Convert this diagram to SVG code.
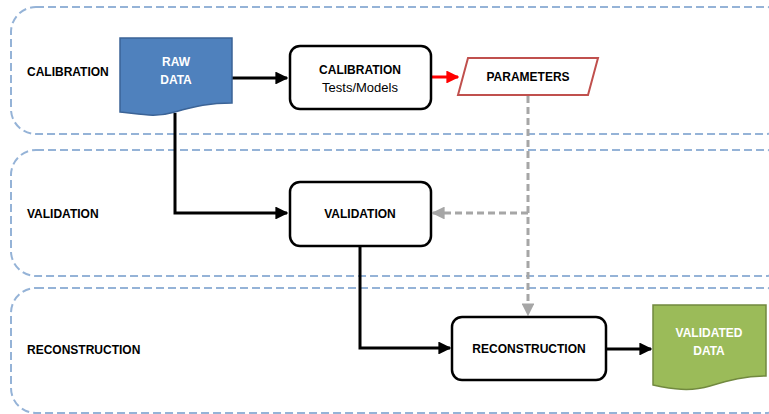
<svg xmlns="http://www.w3.org/2000/svg" width="769" height="414" viewBox="0 0 769 414">
<style>
.lane{fill:none;stroke:#95B3D7;stroke-width:2;stroke-dasharray:8,4}
.lbl{font-family:"Liberation Sans",Arial,sans-serif;font-weight:bold;font-size:12px;fill:#000}
.box{fill:#fff;stroke:#000;stroke-width:2.5}
.t{font-family:"Liberation Sans",Arial,sans-serif;font-size:12px;fill:#000;text-anchor:middle}
.b{font-weight:bold}
.w{fill:#fff}
.blk{fill:none;stroke:#000;stroke-width:3}
.gry{fill:none;stroke:#A6A6A6;stroke-width:3;stroke-dasharray:7,4}
</style>
<defs>
<marker id="ab" viewBox="0 0 10 10" refX="9" refY="5" markerWidth="4.3" markerHeight="4.3" orient="auto" markerUnits="strokeWidth"><path d="M0,0 L10,5 L0,10 z" fill="#000"/></marker>
<marker id="ar" viewBox="0 0 10 10" refX="9" refY="5" markerWidth="4.3" markerHeight="4.3" orient="auto" markerUnits="strokeWidth"><path d="M0,0 L10,5 L0,10 z" fill="#FF0000"/></marker>
<marker id="ag" viewBox="0 0 10 10" refX="9" refY="5" markerWidth="4.3" markerHeight="4.3" orient="auto" markerUnits="strokeWidth"><path d="M0,0 L10,5 L0,10 z" fill="#A6A6A6"/></marker>
</defs>
<g id="lanes">
<rect id="lane-calibration" class="lane" x="11" y="7" width="780" height="127" rx="25"/>
<rect id="lane-validation" class="lane" x="11" y="150" width="780" height="126" rx="25"/>
<rect id="lane-reconstruction" class="lane" x="11" y="288" width="780" height="125" rx="25"/>
<text class="lbl" x="27" y="76">CALIBRATION</text>
<text class="lbl" x="27" y="218">VALIDATION</text>
<text class="lbl" x="27" y="354">RECONSTRUCTION</text>
</g>
<g id="connectors">
<path class="blk" d="M232,78 H287" marker-end="url(#ab)"/>
<path class="blk" d="M175,113 V213 H287" marker-end="url(#ab)"/>
<path class="blk" d="M360,246 V348 H450" marker-end="url(#ab)"/>
<path class="blk" d="M606,349 H651" marker-end="url(#ab)"/>
<path fill="none" stroke="#FF0000" stroke-width="3" d="M431,77 H458" marker-end="url(#ar)"/>
<path class="gry" d="M528,96 V315" marker-end="url(#ag)"/>
<path class="gry" d="M528,213 H433" marker-end="url(#ag)"/>
</g>
<g id="raw-data">
<path d="M120,38 H232 V103 C210,103 195,106 175,112 C155,118 140,114 120,112 Z" fill="#4F81BD" stroke="#3B6396" stroke-width="1.5"/>
<text class="t b w" x="176" y="66">RAW</text>
<text class="t b w" x="176" y="84">DATA</text>
</g>
<g id="calibration">
<rect class="box" x="290" y="46" width="141" height="63" rx="10"/>
<text class="t b" x="360" y="74">CALIBRATION</text>
<text class="t" x="360" y="92" style="font-size:13px">Tests/Models</text>
</g>
<g id="parameters">
<path d="M468,58 H598 L588,95 H458 Z" fill="#fff" stroke="#C0504D" stroke-width="2"/>
<text class="t b" x="528" y="81">PARAMETERS</text>
</g>
<g id="validation">
<rect class="box" x="290" y="182" width="141" height="64" rx="10"/>
<text class="t b" x="360" y="218">VALIDATION</text>
</g>
<g id="reconstruction">
<rect class="box" x="452" y="317" width="154" height="63" rx="10"/>
<text class="t b" x="529" y="353">RECONSTRUCTION</text>
</g>
<g id="validated-data">
<path d="M653,305 H766 V376 C745,376 730,380 710,386 C690,392 672,389 653,385 Z" fill="#9BBB59" stroke="#71893F" stroke-width="1.5"/>
<text class="t b w" x="709" y="337">VALIDATED</text>
<text class="t b w" x="709" y="355">DATA</text>
</g>
</svg>
